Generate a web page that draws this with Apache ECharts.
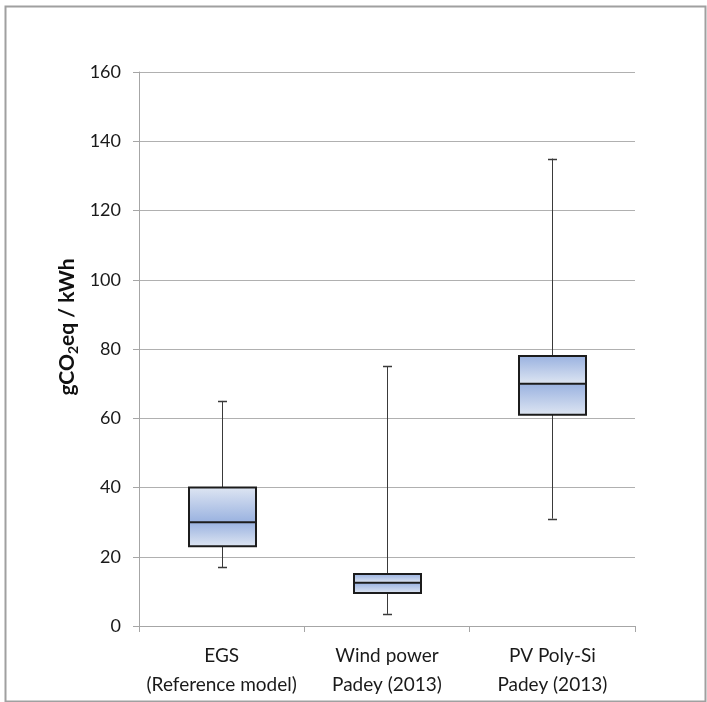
<!DOCTYPE html>
<html>
<head>
<meta charset="utf-8">
<script src="https://cdn.jsdelivr.net/npm/echarts@6/dist/echarts.min.js"></script>
<style>
html,body{margin:0;padding:0;background:#fff;}
#chart{width:707px;height:702px;}
</style>
</head>
<body>
<div id="chart"></div>
<script>
// ---- data ----
const categories = ['EGS\n(Reference model)', 'Wind power\nPadey (2013)', 'PV Poly-Si\nPadey (2013)'];
const whiskerLow = [17, 3.5, 31];
const q1 = [23, 9.5, 61];
const median = [30, 12.5, 70];
const q3 = [40, 15, 78];
const whiskerHigh = [65, 75, 135];
const yTicks = [0, 20, 40, 60, 80, 100, 120, 140, 160];

// ---- styles ----
const LIGHT = '#dde5f2';
const DARK = '#9ab2e0';
// which end of the upper segment is darker (per box)
const upperDarkEnd = ['bottom', 'top', 'top'];

const seriesData = categories.map((c, i) => [i, whiskerLow[i], q1[i], median[i], q3[i], whiskerHigh[i]]);

function grad(darkAtTop) {
  return new echarts.graphic.LinearGradient(0, 0, 0, 1, [
    {offset: 0, color: darkAtTop ? DARK : LIGHT},
    {offset: 1, color: darkAtTop ? LIGHT : DARK}
  ]);
}

function renderItem(params, api) {
  const i = api.value(0);
  const pLo = api.coord([i, api.value(1)]);
  const pQ1 = api.coord([i, api.value(2)]);
  const pMed = api.coord([i, api.value(3)]);
  const pQ3 = api.coord([i, api.value(4)]);
  const pHi = api.coord([i, api.value(5)]);
  const bw = api.size([1, 0])[0] * 0.4;
  const cx = Math.round(pLo[0]) + 0.5;
  const left = Math.round(cx - bw / 2);
  const right = Math.round(cx + bw / 2);
  const cap = 4.5;
  const wStyle = {stroke: '#3a3a3a', lineWidth: 1};
  const idx = params.dataIndex;
  return {
    type: 'group',
    children: [
      {type: 'line', shape: {x1: cx, y1: pHi[1], x2: cx, y2: pQ3[1]}, style: wStyle},
      {type: 'line', shape: {x1: cx, y1: pQ1[1], x2: cx, y2: pLo[1]}, style: wStyle},
      {type: 'line', shape: {x1: cx - cap, y1: Math.round(pHi[1]) + 0.5, x2: cx + cap, y2: Math.round(pHi[1]) + 0.5}, style: {stroke: '#3a3a3a', lineWidth: 1.5}},
      {type: 'line', shape: {x1: cx - cap, y1: Math.round(pLo[1]) + 0.5, x2: cx + cap, y2: Math.round(pLo[1]) + 0.5}, style: {stroke: '#3a3a3a', lineWidth: 1.5}},
      {type: 'rect', shape: {x: left, y: pQ3[1], width: right - left, height: pMed[1] - pQ3[1]},
        style: {fill: grad(upperDarkEnd[idx] === 'top')}},
      {type: 'rect', shape: {x: left, y: pMed[1], width: right - left, height: pQ1[1] - pMed[1]},
        style: {fill: grad(true)}},
      {type: 'rect', shape: {x: left, y: pQ3[1], width: right - left, height: pQ1[1] - pQ3[1]},
        style: {fill: null, stroke: '#1c1c1c', lineWidth: 2}},
      {type: 'line', shape: {x1: left, y1: pMed[1], x2: right, y2: pMed[1]}, style: {stroke: '#1c1c1c', lineWidth: 2}}
    ]
  };
}

const chart = echarts.init(document.getElementById('chart'), null, {renderer: 'canvas'});
chart.setOption({
  animation: false,
  backgroundColor: '#fff',
  textStyle: {fontFamily: 'Lato'},
  grid: {left: 139, right: 72, top: 72, bottom: 76, containLabel: false},
  xAxis: {
    type: 'category',
    data: categories,
    boundaryGap: true,
    axisLine: {lineStyle: {color: '#a6a6a6', width: 1}},
    axisTick: {show: true, length: 6, inside: false, lineStyle: {color: '#a6a6a6'}},
    axisLabel: {color: '#1a1a1a', fontSize: 19, fontFamily: 'Lato', lineHeight: 29, margin: 15, interval: 0}
  },
  yAxis: {
    type: 'value',
    min: 0, max: 160, interval: 20,
    axisLine: {show: true, lineStyle: {color: '#a6a6a6'}},
    axisTick: {show: true, length: 6, lineStyle: {color: '#a6a6a6'}},
    axisLabel: {color: '#1a1a1a', fontSize: 18, fontFamily: 'Lato', margin: 18,
      formatter: v => yTicks.includes(v) ? String(v) : ''},
    splitLine: {show: true, lineStyle: {color: '#b0b0b0', width: 1}}
  },
  series: [{
    type: 'custom',
    renderItem: renderItem,
    data: seriesData,
    encode: {x: 0, y: [1, 2, 3, 4, 5]},
    z: 10
  }],
  graphic: [
    {type: 'rect', left: 3, top: 4, z: -1, silent: true,
      shape: {width: 700, height: 695},
      style: {fill: null, stroke: '#a0a0a0', lineWidth: 2}},
    {type: 'text', x: 67, y: 327, rotation: Math.PI / 2, silent: true,
      style: {
        text: '{a|gCO}{b|2}{a|eq / kWh}',
        align: 'center', verticalAlign: 'middle',
        rich: {
          a: {fontFamily: 'Lato', fontWeight: 'bold', fontSize: 21, fill: '#111', lineHeight: 26},
          b: {fontFamily: 'Lato', fontWeight: 'bold', fontSize: 14, fill: '#111', lineHeight: 14, verticalAlign: 'bottom', padding: [8, 0, 0, 0]}
        }
      }}
  ]
});
</script>
</body>
</html>
